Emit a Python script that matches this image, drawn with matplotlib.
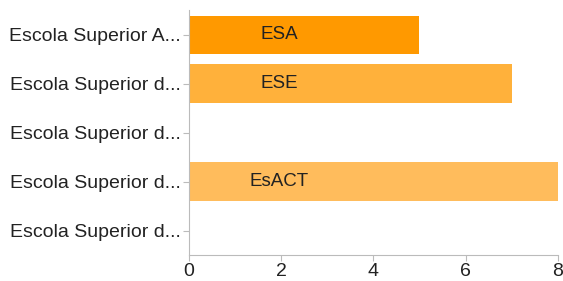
import matplotlib
matplotlib.use("Agg")
import matplotlib.pyplot as plt

categories = [
    "Escola Superior A...",
    "Escola Superior d...",
    "Escola Superior d...",
    "Escola Superior d...",
    "Escola Superior d...",
]
values = [5, 7, 0, 8, 0]
bar_labels = ["ESA", "ESE", "", "EsACT", ""]
bar_colors = ["#ff9900", "#ffb13b", "#ffb13b", "#ffbc5c", "#ffbc5c"]
xticks = [0, 2, 4, 6, 8]

plt.rcParams["font.family"] = ["Liberation Sans", "DejaVu Sans"]

fig = plt.figure(figsize=(5.63, 2.81), dpi=100)
ax = fig.add_axes([0.3357, 0.0925, 0.655, 0.8715])

y = list(range(len(categories)))
ax.barh(y, values, height=0.78, color=bar_colors)
for yi, v, lab in zip(y, values, bar_labels):
    if lab:
        ax.text(1.95, yi, lab, ha="center", va="center", fontsize=13.5, color="#222222")

ax.set_ylim(len(categories) - 0.5, -0.5)
ax.set_xlim(0, 8)
ax.set_yticks(y)
ax.set_yticklabels(categories, fontsize=14, color="#222222")
ax.set_xticks(xticks)
ax.set_xticklabels([str(t) for t in xticks], fontsize=14, color="#222222")

for side in ["top", "right"]:
    ax.spines[side].set_visible(False)
for side in ["left", "bottom"]:
    ax.spines[side].set_color("#bbbbbb")
ax.tick_params(axis="both", colors="#bbbbbb", length=4, width=0.8, labelcolor="#222222")
ax.tick_params(axis="y", pad=2)
ax.tick_params(axis="x", pad=2)

plt.savefig("out.png", dpi=100)
